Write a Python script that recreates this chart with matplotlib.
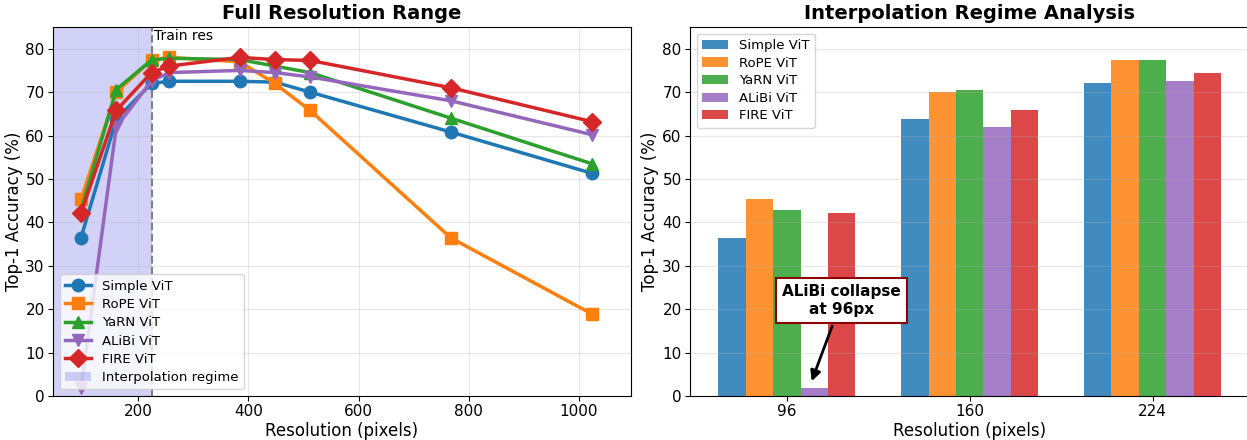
import numpy as np
import matplotlib
matplotlib.use("Agg")
import matplotlib.pyplot as plt

# ---- data ----
RES = [96, 160, 224, 256, 384, 448, 512, 768, 1024]
MODELS = ["Simple ViT", "RoPE ViT", "YaRN ViT", "ALiBi ViT", "FIRE ViT"]
simple_acc = [36.5, 63.8, 72.0, 72.5, 72.5, 72.3, 70.0, 60.8, 51.3]
rope_acc = [45.3, 70.0, 77.4, 78.0, 77.0, 72.0, 65.8, 36.4, 18.9]
yarn_acc = [42.9, 70.6, 77.4, 77.8, 77.5, 76.0, 74.5, 64.0, 53.5]
alibi_acc = [1.8, 62.0, 72.6, 74.5, 75.0, 74.5, 73.5, 68.0, 60.2]
fire_acc = [42.2, 65.8, 74.5, 76.0, 78.0, 77.5, 77.3, 71.0, 63.2]
ACC = [simple_acc, rope_acc, yarn_acc, alibi_acc, fire_acc]
MARKERS = ["o", "s", "^", "v", "D"]
COLORS = ["#1f77b4", "#ff7f0e", "#2ca02c", "#9467bd", "#d62728"]
TRAIN_RES = 224
INTERP_RES = [96, 160, 224]

plt.rcParams.update({"xtick.labelsize": 11, "ytick.labelsize": 11,
                     "xtick.major.pad": 2.5, "ytick.major.pad": 2.5,
                     "axes.labelpad": 2})
fig = plt.figure(figsize=(12.47, 4.4), dpi=100)
ax1 = fig.add_axes([0.0425, 0.1, 0.4635, 0.8386])
ax2 = fig.add_axes([0.5533, 0.1, 0.4487, 0.8386])

# ---- left: full range ----
ax1.axvspan(0, TRAIN_RES, color="#6060e8", alpha=0.28, lw=0, label="Interpolation regime", zorder=0)
ax1.axvline(TRAIN_RES, color="gray", ls="--", lw=1.5)
ax1.text(TRAIN_RES + 4, 84.5, "Train res", fontsize=10, va="top", ha="left")
for name, acc, mk, col in zip(MODELS, ACC, MARKERS, COLORS):
    ax1.plot(RES, acc, marker=mk, color=col, lw=2.5, ms=9, label=name)
ax1.set_xlim(45, 1095)
ax1.set_ylim(0, 85)
ax1.set_xlabel("Resolution (pixels)", fontsize=12)
ax1.set_ylabel("Top-1 Accuracy (%)", fontsize=12)
ax1.set_title("Full Resolution Range", fontsize=14, fontweight="bold")
ax1.grid(True, alpha=0.3)
h, l = ax1.get_legend_handles_labels()
ax1.legend(h[1:] + h[:1], l[1:] + l[:1], loc="lower left", fontsize=9.5, labelspacing=0.4)

# ---- right: interpolation regime bars ----
x = np.arange(len(INTERP_RES))
w = 0.15
idx = [RES.index(r) for r in INTERP_RES]
for i, (name, acc, col) in enumerate(zip(MODELS, ACC, COLORS)):
    ax2.bar(x + (i - 2) * w, [acc[j] for j in idx], w, color=col, alpha=0.85, label=name)
ax2.set_xticks(x)
ax2.set_xticklabels([str(r) for r in INTERP_RES])
ax2.set_xlim(-0.53, 2.53)
ax2.set_ylim(0, 85)
ax2.set_xlabel("Resolution (pixels)", fontsize=12)
ax2.set_ylabel("Top-1 Accuracy (%)", fontsize=12)
ax2.set_title("Interpolation Regime Analysis", fontsize=14, fontweight="bold")
ax2.grid(True, axis="y", alpha=0.3)
ax2.legend(loc="upper left", fontsize=9.5, labelspacing=0.35)
ax2.annotate("ALiBi collapse\nat 96px", xy=(x[0] + 0.13, 2.8),
             xytext=(x[0] + 0.3, 22), ha="center", va="center",
             fontsize=11, fontweight="bold",
             bbox=dict(boxstyle="square,pad=0.4", fc="white", ec="darkred", lw=1.5),
             arrowprops=dict(arrowstyle="-|>", color="black", lw=2, mutation_scale=15))

fig.savefig("out.png")
